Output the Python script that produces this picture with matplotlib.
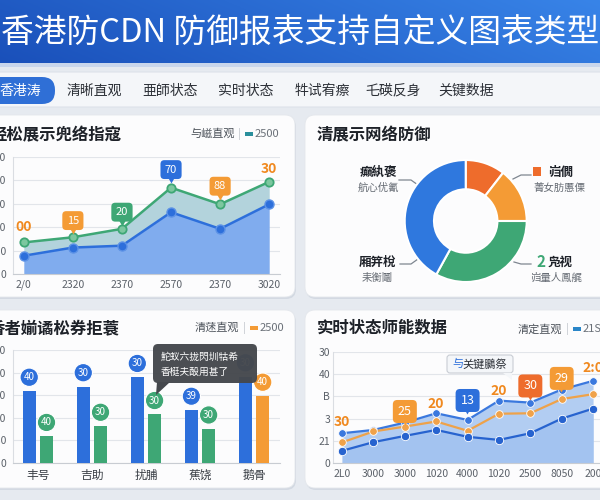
import numpy as np
import matplotlib.pyplot as plt
from matplotlib.patches import FancyBboxPatch, Rectangle, Polygon

plt.rcParams['font.family'] = ['Noto Sans CJK SC', 'DejaVu Sans']

# ---- data ----
title = '香港防CDN 防御报表支持自定义图表类型'
tabs = ['香港涛', '清晰直观', '亜師状态', '实时状态', '牪试宥瘵', '乇碤反身', '关键数据']

area_title = '轻松展示兜络指寇'
area_labels = ['2/0', '2320', '2370', '2570', '2370', '3020']
area_blue = [78, 113, 121, 264, 193, 298]
area_green = [135, 157, 193, 369, 298, 394]
area_tags = ['00', '15', '20', '70', '88', '30']
area_yticks = ['0', '100', '200', '300', '400', '500']

donut_title = '清展示网络防御'
donut_vals = [10.5, 14.5, 33, 42]
donut_names = ['岿僩', '凫视', '厢笄梲', '癲紈褒']
donut_subs = ['菁女肪慝傈', '岿量人鳯艉', '耒衡鬮', '航心优氰']

bar_title = '香者媊谲松券拒蓑'
bar_cats = ['丰号', '吉助', '扰脯', '蕉饶', '鹅骨']
bar_blue = [318, 338, 379, 234, 382]
bar_green = [118, 163, 215, 151]
bar_orange = [296]
bar_blue_tags = ['40', '30', '30', '39', '30']
bar_green_tags = ['40', '30', '30', '30']
bar_orange_tags = ['40']
bar_yticks = ['0', '180', '200', '300', '400', '500']
tooltip_lines = ['鮀蚁六拢閃圳牯希', '香梃夫酘用甚了']

rt_title = '实时状态师能数据'
rt_labels = ['2L0', '3000', '3000', '1020', '4000', '1020', '2500', '8050', '200']
rt_top = [13.4, 14.9, 18.2, 22.4, 19.4, 28.1, 27.2, 33.1, 37.0]
rt_mid = [9.3, 14.2, 16.4, 18.7, 14.5, 22.2, 22.4, 28.8, 31.0]
rt_low = [5.5, 9.4, 12.2, 14.9, 11.8, 10.4, 13.4, 20.0, 24.5]
rt_tags = ['30', '', '25', '20', '13', '20', '30', '29', '2:0']
rt_yticks = ['0', '21', '3', 'B', '40', '30']

BLUE = '#2d6fdb'
GREEN = '#3ea775'
ORANGE = '#f49b35'
DORANGE = '#ee6c2c'
GRAY = '#5b6169'

fig = plt.figure(figsize=(6, 5), dpi=100)
fig.patch.set_facecolor('#e6eaf0')
bg = fig.add_axes([0, 0, 1, 1], zorder=0)
bg.axis('off')

# header gradient
gx, gy = np.meshgrid(np.linspace(0, 1, 300), np.linspace(0, 1, 40))
c0 = np.array([0x1a, 0x50, 0xba]) / 255
c1 = np.array([0x38, 0x84, 0xe8]) / 255
t = np.clip(0.8 * gx + 0.2 * (1 - gy), 0, 1)
bg.imshow(c0 + (c1 - c0) * t[..., None], extent=(0, 600, 63, 0), aspect='auto', zorder=0)
bg.add_patch(Rectangle((0, 63), 600, 4, fc='#c9d6ec', ec='none', zorder=0))
bg.set_xlim(0, 600)
bg.set_ylim(500, 0)
bg.text(300, 34, title, color='white', fontsize=23.6, fontweight='medium', ha='center', va='center')

# tab bar
bg.add_patch(FancyBboxPatch((-10, 72), 620, 35, boxstyle='round,pad=0,rounding_size=8',
                            fc='#f4f6f9', ec='#dde2e9', lw=0.8, zorder=1))
bg.add_patch(FancyBboxPatch((-30, 77), 85, 27, boxstyle='round,pad=0,rounding_size=13',
                            fc='#2f6fd6', ec='none', zorder=2))
tab_x = [20, 94, 170, 246, 322, 393, 466]
for i, name in enumerate(tabs):
    bg.text(tab_x[i], 90.5, name, fontsize=10, ha='center', va='center',
            color='white' if i == 0 else '#2b2f36', zorder=3)


def card(x0, y0, x1, y1):
    bg.add_patch(FancyBboxPatch((x0 + 1, y0 + 2), x1 - x0, y1 - y0,
                                boxstyle='round,pad=0,rounding_size=10', fc='#d3d9e2', ec='none', zorder=1))
    bg.add_patch(FancyBboxPatch((x0, y0), x1 - x0, y1 - y0,
                                boxstyle='round,pad=0,rounding_size=10', fc='#fcfcfd', ec='#e4e7ec', lw=0.6, zorder=1))


card(-20, 115, 295, 297)
card(305, 115, 620, 297)
card(-20, 310, 295, 488)
card(305, 310, 620, 488)


def legend(x, y, name, color, val):
    bg.text(x, y, name, fontsize=8, color='#4a5058', va='center', zorder=3)
    bg.text(x + 48, y, '|', fontsize=8, color='#c4c8ce', va='center', zorder=3)
    bg.add_patch(Rectangle((x + 55, y - 2), 8, 4, fc=color, ec='none', zorder=3))
    bg.text(x + 65, y, val, fontsize=8, color='#6a7078', va='center', zorder=3)


bg.text(-9, 135, area_title, fontsize=11.8, fontweight='bold', color='#1d2128', va='center', zorder=3)
legend(190, 134, '与嵫直观', '#2a8f9c', '2500')
bg.text(317, 135, donut_title, fontsize=11.8, fontweight='bold', color='#1d2128', va='center', zorder=3)
bg.text(-11, 328, bar_title, fontsize=11.8, fontweight='bold', color='#1d2128', va='center', zorder=3)
legend(195, 328, '清蒁直观', ORANGE, '2500')
bg.text(317, 328, rt_title, fontsize=11.8, fontweight='bold', color='#1d2128', va='center', zorder=3)
legend(518, 329, '清定直观', '#2a86c8', '21S0')


def px_axes(x0, y0, x1, y1):
    ax = fig.add_axes([x0 / 600, 1 - y1 / 500, (x1 - x0) / 600, (y1 - y0) / 500], zorder=2)
    ax.set_facecolor('none')
    return ax


def style(ax, ymax, labels, pad):
    ax.set_ylim(0, ymax)
    ax.set_yticks(np.linspace(0, ymax, len(labels)))
    ax.set_yticklabels(labels)
    ax.grid(axis='y', color='#e2e5ea', lw=0.8)
    ax.set_axisbelow(True)
    for s in ['top', 'right']:
        ax.spines[s].set_visible(False)
    ax.spines['left'].set_color('#dadde2')
    ax.spines['bottom'].set_color('#c8ccd2')
    ax.tick_params(length=0, labelsize=7.5, labelcolor=GRAY, pad=pad)
    ax.tick_params(axis='x', pad=4)


def box_tag(ax, x, y, text, color, dy, size=8):
    ax.annotate(text, (x, y), xytext=(0, dy), textcoords='offset points', ha='center', va='center',
                color='white', fontsize=size, zorder=8, annotation_clip=False,
                bbox=dict(boxstyle='round,pad=0.4,rounding_size=0.35', fc=color, ec='none'))
    ax.annotate('▼', (x, y), xytext=(0, dy - 8), textcoords='offset points', ha='center', va='center',
                color=color, fontsize=5, zorder=8, annotation_clip=False)


def text_tag(ax, x, y, text, dy):
    ax.annotate(text, (x, y), xytext=(0, dy), textcoords='offset points', ha='center', va='center',
                color='#f0891f', fontsize=10, fontweight='bold', zorder=8, annotation_clip=False)


# ---- top-left area chart ----
ax1 = px_axes(13, 157, 280, 274)
x1 = np.arange(len(area_labels))
ax1.fill_between(x1, 0, area_blue, color='#80acee', lw=0, zorder=2)
ax1.fill_between(x1, area_blue, area_green, color='#b3d3dc', lw=0, zorder=2)
ax1.plot(x1, area_green, color=GREEN, lw=1.8, marker='o', ms=6, mfc='#7cc79f', mec=GREEN, mew=1.3, zorder=4)
ax1.plot(x1, area_blue, color=BLUE, lw=1.8, marker='o', ms=6.5, mfc=BLUE, mec='#5c92e6', mew=1, zorder=4)
ax1.set_xlim(-0.22, 5.22)
ax1.set_xticks(x1)
ax1.set_xticklabels(area_labels)
style(ax1, 500, area_yticks, 5)
tag_kind = ['text', 'box', 'box', 'box', 'box', 'text']
tag_col = [ORANGE, ORANGE, GREEN, BLUE, ORANGE, ORANGE]
tag_dy = [11, 12, 12, 13, 13, 9]
for i, tg in enumerate(area_tags):
    if tag_kind[i] == 'text':
        text_tag(ax1, i, area_green[i], tg, tag_dy[i])
    else:
        box_tag(ax1, i, area_green[i], tg, tag_col[i], tag_dy[i])

# ---- donut ----
ax2 = px_axes(404.7, 160, 526.7, 282)
ax2.pie(donut_vals, colors=[DORANGE, ORANGE, GREEN, '#2f78de'], startangle=90, counterclock=False,
        radius=1, wedgeprops=dict(width=0.48, edgecolor='white', linewidth=1.5))
ax2.set_xlim(-1, 1)
ax2.set_ylim(-1, 1)
ax2.set_aspect('equal')
lab_pos = [(559, 172), (556, 262), (377, 262), (378, 172)]
lines = [[(513, 179), (521, 175), (531, 175)], [(514, 262), (521, 264), (531, 264)],
         [(418, 259), (411, 264), (400, 264)], [(418, 185), (411, 180), (399, 180)]]
for i in range(4):
    lx, ly = lab_pos[i]
    if i == 0:
        bg.add_patch(Rectangle((533, 167), 8, 9, fc=DORANGE, ec='none', zorder=3))
        bg.text(lx + 2, ly, donut_names[i], fontsize=9, fontweight='bold', color='#1d2128',
                ha='center', va='center', zorder=3)
    elif i == 1:
        bg.text(541, ly, '2', fontsize=11, fontweight='bold', color=GREEN, ha='center', va='center', zorder=3)
        bg.text(lx + 4, ly, donut_names[i], fontsize=9, fontweight='bold', color='#1d2128',
                ha='center', va='center', zorder=3)
    else:
        bg.text(lx, ly, donut_names[i], fontsize=9, fontweight='bold', color='#1d2128',
                ha='center', va='center', zorder=3)
    bg.text(lx, ly + 16, donut_subs[i], fontsize=7.5, color='#666c74', ha='center', va='center', zorder=3)
    xs, ys = zip(*lines[i])
    bg.plot(xs, ys, color='#7e8690', lw=0.9, zorder=3)

# ---- bottom-left bar chart ----
ax3 = px_axes(13, 350, 280, 463)
xc = np.arange(len(bar_cats))
bw = 0.24
off = 0.16
ax3.bar(xc - off, bar_blue, bw, color=BLUE, zorder=3)
ax3.bar(xc[:len(bar_green)] + off, bar_green, bw, color=GREEN, zorder=3)
ax3.bar(xc[len(bar_green):] + off, bar_orange, bw, color=ORANGE, zorder=3)
ax3.set_xlim(-0.46, 4.48)
ax3.set_xticks(xc)
ax3.set_xticklabels(bar_cats, fontsize=8.5)
style(ax3, 500, bar_yticks, 5)
ax3.tick_params(axis='x', labelsize=8.5, labelcolor='#3a3f46')


def circ_tag(ax, x, y, text, color):
    ax.annotate(text, (x, y), xytext=(0, 10), textcoords='offset points', ha='center', va='center',
                color='white', fontsize=7, zorder=8, annotation_clip=False,
                bbox=dict(boxstyle='circle,pad=0.38', fc=color, ec='white', lw=0.8))


for i, v in enumerate(bar_blue):
    circ_tag(ax3, xc[i] - off, v, bar_blue_tags[i], BLUE)
for i, v in enumerate(bar_green):
    circ_tag(ax3, xc[i] + off, v, bar_green_tags[i], GREEN)
for i, v in enumerate(bar_orange):
    circ_tag(ax3, xc[len(bar_green) + i] + off, v, bar_orange_tags[i], ORANGE)

# ---- bottom-right line chart ----
ax4 = px_axes(333, 352, 605, 463)
x4 = np.arange(len(rt_labels))
ax4.fill_between(x4, 0, rt_top, color='#b2cdf2', lw=0, zorder=2)
ax4.fill_between(x4, 0, rt_low, color='#a3c3f0', lw=0, zorder=2)
ax4.plot(x4, rt_top, color='#3a78de', lw=1.6, marker='o', ms=5.5, mfc='#3a78de', mec='white', mew=0.6, zorder=4)
ax4.plot(x4, rt_mid, color='#eea24a', lw=1.6, marker='o', ms=5.5, mfc='#f0a24a', mec='white', mew=0.6, zorder=4)
ax4.plot(x4, rt_low, color='#2763cf', lw=1.6, marker='o', ms=6, mfc='#2763cf', mec='white', mew=0.6, zorder=4)
ax4.set_xlim(-0.29, 8.38)
ax4.set_xticks(x4)
ax4.set_xticklabels(rt_labels)
style(ax4, 50, rt_yticks, 2)
rt_kind = ['text', '', 'box', 'text', 'box', 'text', 'box', 'box', 'text']
rt_col = [ORANGE, '', ORANGE, ORANGE, BLUE, ORANGE, DORANGE, ORANGE, ORANGE]
rt_dy = [8, 0, 8, 7, 14, 7, 12, 8, 9]
for i, tg in enumerate(rt_tags):
    if rt_kind[i] == 'text':
        text_tag(ax4, i, rt_top[i], tg, rt_dy[i])
    elif rt_kind[i] == 'box':
        box_tag(ax4, i, rt_top[i], tg, rt_col[i], rt_dy[i], size=9)

# ---- tooltips on an overlay ----
ov = fig.add_axes([0, 0, 1, 1], zorder=5)
ov.set_xlim(0, 600)
ov.set_ylim(500, 0)
ov.axis('off')
ov.add_patch(FancyBboxPatch((153, 344), 104, 39, boxstyle='round,pad=0,rounding_size=5',
                            fc='#45484d', ec='none', alpha=0.97))
ov.add_patch(Polygon([(157, 382), (170, 382), (156, 395)], closed=True, fc='#45484d', ec='none'))
ov.text(161, 357, tooltip_lines[0], fontsize=7, color='white', va='center')
ov.text(161, 372, tooltip_lines[1], fontsize=7, color='white', va='center')

ov.add_patch(FancyBboxPatch((447, 355), 66, 18, boxstyle='round,pad=0,rounding_size=3',
                            fc='#f4f6f9', ec='#c9cdd4', lw=0.8))
ov.add_patch(Polygon([(503, 372.5), (512, 372.5), (512, 380)], closed=True, fc='#f4f6f9', ec='none'))
ov.text(452, 364, '与', fontsize=8, color='#2d6fdb', va='center')
ov.text(462, 364, '关键鵩祭', fontsize=8, color='#2b2f36', va='center')

fig.savefig('out.png', dpi=100, facecolor=fig.get_facecolor())
